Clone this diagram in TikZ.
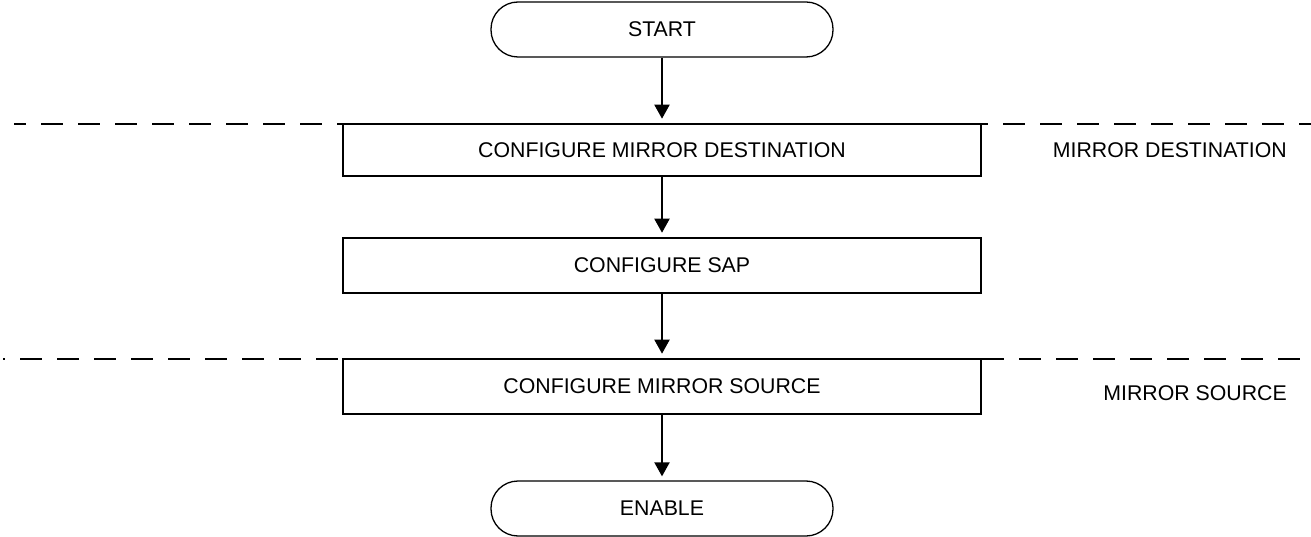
\documentclass[tikz,border=0pt]{standalone}
\usepackage{fontspec}
\setmainfont{Liberation Sans}
\usetikzlibrary{arrows.meta}
\begin{document}
\begin{tikzpicture}[x=1pt,y=-1pt,
  txt/.style={font=\fontsize{21.3pt}{24pt}\selectfont, text=black},
  pill/.style={txt, draw, line width=1.3pt, rounded corners=27pt, minimum width=342pt, minimum height=55pt, inner sep=0pt, fill=white},
  stepbox/.style={txt, draw, line width=2.6pt, minimum width=638pt, inner sep=0pt, fill=white},
  flow/.style={line width=2pt, -{Triangle[length=14pt,width=15pt]}, shorten >=4pt},
  sep/.style={line width=1.3pt, dash pattern=on 22pt off 15pt}
]
\useasboundingbox (0,0) rectangle (1311,537);
% separators
\coordinate (s1a) at (14,124);
\coordinate (s1b) at (1311,124);
\coordinate (s2a) at (3,359);
\coordinate (s2b) at (1311,359);
\draw[sep, dash phase=10pt] (s1a) -- (s1b);
\draw[sep, dash phase=20pt] (s2a) -- (s2b);
% nodes
\node[pill] (start) at (662,29.5) {START};
\node[stepbox, minimum height=52pt] (dest) at (662,150) {CONFIGURE MIRROR DESTINATION};
\node[stepbox, minimum height=55pt] (sap) at (662,265.5) {CONFIGURE SAP};
\node[stepbox, minimum height=55pt] (src) at (662,386.5) {CONFIGURE MIRROR SOURCE};
\node[pill] (enable) at (662,508.5) {ENABLE};
% side labels
\node[txt, anchor=east, inner sep=0pt] (ldest) at (1287,150) {MIRROR DESTINATION};
\node[txt, anchor=east, inner sep=0pt] (lsrc) at (1287,393) {MIRROR SOURCE};
% connectors
\draw[flow] (start) -- (dest);
\draw[flow] (dest) -- (sap);
\draw[flow] (sap) -- (src);
\draw[flow] (src) -- (enable);
\end{tikzpicture}
\end{document}
